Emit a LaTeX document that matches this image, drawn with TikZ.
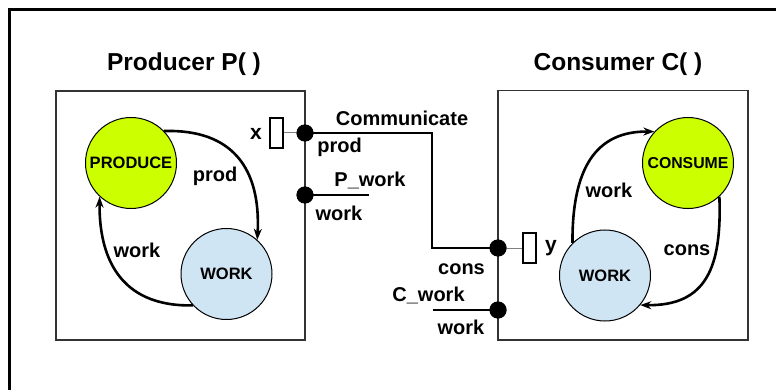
\documentclass[tikz,border=0pt]{standalone}
\usepackage{fontspec}
\setmainfont{Liberation Sans}
\usetikzlibrary{arrows.meta}
\definecolor{stategreen}{HTML}{CCFF00}
\definecolor{stateblue}{HTML}{CFE5F3}
\definecolor{boxgrey}{HTML}{333333}
\tikzset{
  title/.style={font=\bfseries\fontsize{24.5}{28}\selectfont, inner sep=0pt},
  lbl/.style={font=\bfseries\fontsize{20}{24}\selectfont, inner sep=0pt},
  statelbl/.style={font=\bfseries\fontsize{16.5}{20}\selectfont},
  state/.style={circle, draw=black, line width=1pt, minimum size=91pt, inner sep=0pt, statelbl},
  procbox/.style={draw=boxgrey, line width=1.6pt},
  port/.style={draw=black, line width=2pt, minimum width=13pt, minimum height=30pt, inner sep=0pt, fill=white},
  joint/.style={circle, fill=black, minimum size=17pt, inner sep=0pt},
  flow/.style={line width=2.6pt, -{Stealth[length=11pt, width=8pt]}},
  wire/.style={line width=2.6pt},
  tap/.style={line width=1pt, draw=gray},
}
\begin{document}
\begin{tikzpicture}[x=1pt, y=-1pt]
\useasboundingbox (0,0) rectangle (776,390);

% outer frame
\draw[line width=3pt] (9.5,392) -- (9.5,9.5) -- (778,9.5);

% process boxes
\draw[procbox] (56,91) rectangle (305,340);
\draw[procbox] (498,90.5) rectangle (748,340);

% titles
\node[title] (tp) at (184,64) {Producer P( )};
\node[title] (tc) at (618,64) {Consumer C( )};

% producer states
\node[state, fill=stategreen] (pr) at (131,163) {PRODUCE};
\node[state, fill=stateblue] (pw) at (226.5,274) {WORK};
\draw[flow] (pr.44) .. controls (232,129) and (261,168) .. (pw.48);
\draw[flow] (pw.223) .. controls (118,307) and (99,255) .. (pr.227);
\node[lbl] (lprod) at (215,176) {prod};
\node[lbl] (lwork) at (137,250) {work};

% consumer states
\node[state, fill=stategreen, font=\bfseries\fontsize{15.8}{19}\selectfont] (cc) at (688,163) {CONSUME};
\node[state, fill=stateblue] (cw) at (605,275.5) {WORK};
\draw[flow] (cw.135) .. controls (572,168) and (596,131) .. (cc.137);
\draw[flow] (cc.-47) .. controls (722,268) and (706,306) .. (cw.-40);
\node[lbl] (lcwork) at (609,190) {work};
\node[lbl] (lcons) at (687,250) {cons};

% ports and joints
\node[port] (px) at (276.5,133) {};
\node[port] (py) at (529.5,248) {};
\node[joint] (dp) at (305,133) {};
\node[joint] (dpw) at (305,195) {};
\node[joint] (dc) at (498,248) {};
\node[joint] (dcw) at (498,310) {};
\draw[tap] (px.east) -- (dp.center);
\draw[tap] (dc.center) -- (py.west);
\node[lbl, font=\bfseries\fontsize{21}{24}\selectfont] (lx) at (256,134) {x};
\node[lbl, font=\bfseries\fontsize{21}{24}\selectfont] (ly) at (551,248) {y};

% channel between the processes
\coordinate (bend) at (432,133);
\coordinate (pend) at (369,195);
\coordinate (cend) at (433,310);
\draw[wire] (dp.center) -- (bend) |- (dc.center);
\draw[wire] (dpw.center) -- (pend);
\draw[wire] (cend) -- (dcw.center);
\node[joint] at (dp) {};
\node[joint] at (dpw) {};
\node[joint] at (dc) {};
\node[joint] at (dcw) {};

% channel labels
\node[lbl] (lcomm) at (402,118) {Communicate};
\node[lbl] (lpprod) at (339.5,147) {prod};
\node[lbl] (lpwork) at (370,180) {P\_work};
\node[lbl] (lpw2) at (339,213) {work};
\node[lbl] (lccons) at (461.5,269) {cons};
\node[lbl] (lcw) at (428.5,295) {C\_work};
\node[lbl] (lcw2) at (461,327.5) {work};
\end{tikzpicture}
\end{document}
